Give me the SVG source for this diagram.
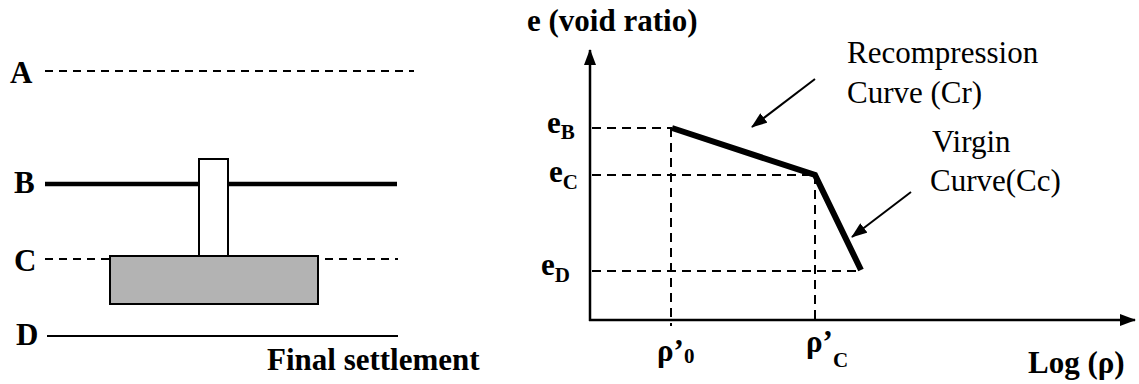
<svg xmlns="http://www.w3.org/2000/svg" width="1139" height="384" viewBox="0 0 1139 384">
<style>
text{font-family:"Liberation Serif","Times New Roman","DejaVu Serif",serif}
.lbl{font-weight:bold;font-size:31px;fill:#000}
.sub{font-weight:bold;font-size:21px;fill:#000}
.txt{font-size:31px;fill:#000}
.dash{stroke:#000;stroke-width:2;stroke-dasharray:8 6;fill:none}
.dash2{stroke:#000;stroke-width:2;stroke-dasharray:9 6;fill:none}
.solid{stroke:#000;fill:none}
</style>
<defs>
<marker id="ah2" markerWidth="16" markerHeight="12" refX="15" refY="6" orient="auto" markerUnits="userSpaceOnUse" viewBox="0 0 16 12">
<path d="M0,0 L16,6 L0,12 z" fill="#000"/>
</marker>
</defs>

<g id="left-section">
<g id="level-A">
<text class="lbl" x="10" y="83">A</text>
<line class="dash" x1="45" y1="71" x2="414" y2="71"/>
</g>
<g id="level-B">
<text class="lbl" x="14" y="193">B</text>
<line class="solid" x1="45" y1="184" x2="397" y2="184" stroke-width="4.5"/>
</g>
<g id="level-C">
<text class="lbl" x="14" y="271">C</text>
<line class="dash" x1="45" y1="259" x2="398" y2="259"/>
</g>
<g id="level-D">
<text class="lbl" x="16" y="345">D</text>
<line class="solid" x1="47" y1="336" x2="398" y2="336" stroke-width="2"/>
</g>
<g id="column">
<rect x="199" y="159" width="29" height="97" fill="#fff" stroke="#000" stroke-width="2"/>
</g>
<g id="footing">
<rect x="110" y="256" width="208" height="48" fill="#b3b3b3" stroke="#000" stroke-width="2"/>
</g>
<text class="lbl" x="267" y="370">Final settlement</text>
</g>

<g id="graph">
<text class="lbl" x="527" y="31">e (void ratio)</text>
<text class="lbl" x="1028" y="373">Log (ρ)</text>

<g id="guides">
<line class="dash2" x1="592" y1="128" x2="672" y2="128"/>
<line class="dash2" x1="592" y1="175" x2="815" y2="175"/>
<line class="dash2" x1="592" y1="271" x2="862" y2="271"/>
<line class="dash2" x1="671" y1="128" x2="671" y2="326"/>
<line class="dash2" x1="815" y1="175" x2="815" y2="320"/>
</g>

<g id="axes">
<line class="solid" x1="590" y1="321" x2="590" y2="50" stroke-width="2.5" marker-end="url(#ah2)"/>
<line class="solid" x1="589" y1="320" x2="1135" y2="320" stroke-width="2.5" marker-end="url(#ah2)"/>
</g>

<g id="curve">
<polyline points="672,128 815,175 861,270" fill="none" stroke="#000" stroke-width="6" stroke-linejoin="miter"/>
</g>

<g id="tick-labels">
<text class="lbl" x="547" y="133">e<tspan class="sub" dy="6">B</tspan></text>
<text class="lbl" x="549" y="182">e<tspan class="sub" dy="7">C</tspan></text>
<text class="lbl" x="541" y="275">e<tspan class="sub" dy="7">D</tspan></text>
<text class="lbl" x="657" y="361">ρ’<tspan class="sub" dy="2">0</tspan></text>
<text class="lbl" x="806" y="352">ρ’<tspan class="sub" dy="15">C</tspan></text>
</g>

<g id="annotations">
<text class="txt" x="847" y="63">Recompression</text>
<text class="txt" x="847" y="103">Curve (Cr)</text>
<text class="txt" x="932" y="152">Virgin</text>
<text class="txt" x="930" y="191">Curve(Cc)</text>
</g>

<g id="connectors">
<line class="solid" x1="815" y1="79" x2="752" y2="127" stroke-width="2" marker-end="url(#ah2)"/>
<line class="solid" x1="911" y1="192" x2="852" y2="237" stroke-width="2" marker-end="url(#ah2)"/>
</g>
</g>
</svg>
